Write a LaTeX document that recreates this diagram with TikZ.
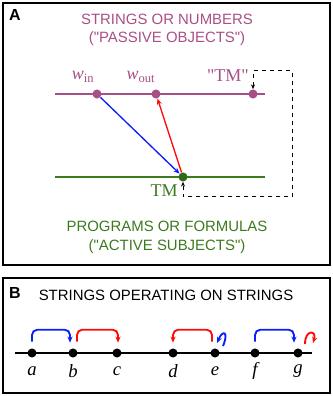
\documentclass[tikz,border=0pt]{standalone}
\usepackage{fontspec}
\setmainfont{Liberation Serif}[Ligatures=TeXOff]
\setsansfont{Liberation Sans}[Ligatures=TeXOff]
\usetikzlibrary{arrows.meta,positioning,calc}
\definecolor{passive}{HTML}{A84F86}
\definecolor{active}{HTML}{3C7A1E}
\definecolor{activedot}{HTML}{2F6A16}
\definecolor{hopblue}{HTML}{0A1EFF}
\definecolor{hopred}{HTML}{FF0A0A}

\begin{document}
\begin{tikzpicture}[
    x=0.75pt, y=0.75pt,
    >={Stealth[length=4.6pt,width=3.8pt]},
    panel/.style={draw=black, line width=0.8pt},
    tag/.style={font=\sffamily\bfseries\fontsize{12}{13}\selectfont},
    caption/.style={font=\sffamily\fontsize{11.2}{13.8}\selectfont, align=center},
    dot/.style={circle, inner sep=0pt, minimum size=6.8pt},
    symb/.style={font=\fontsize{13.5}{15}\selectfont, inner sep=0pt},
    hop/.style={->, line width=1.4pt, rounded corners=4pt},
    feed/.style={<->, dashed, line width=0.75pt, >={Stealth[length=3.6pt,width=3pt]}},
  ]
\useasboundingbox (0,0) rectangle (332,396);

% panel frames
\draw[panel] (3,131) rectangle (330,393);
\draw[panel] (3,3) rectangle (330,118);
\node[tag] (tagA) at (15,381) {A};
\node[tag] (tagB) at (15,103) {B};

% passive objects
\node[caption, text=passive] (objcap) at (167,366)
  {STRINGS OR NUMBERS\\("PASSIVE OBJECTS")};
\draw[passive, line width=1.5pt] (55,302) -- (265,302);
\node[dot, fill=passive] (win) at (97,302) {};
\node[dot, fill=passive] (wout) at (156,302) {};
\node[dot, fill=passive] (tmstr) at (253,302) {};
\node[symb, text=passive] (lwin) at (83,319) {\textit{w}\textsubscript{in}};
\node[symb, text=passive] (lwout) at (141,319) {\textit{w}\textsubscript{out}};
\node[symb, text=passive] (ltmstr) at (228,320) {"TM"};

% active subjects
\draw[active, line width=1.5pt] (55,219) -- (265,219);
\node[dot, fill=activedot] (tm) at (183,219) {};
\node[symb, text=active] (ltm) at (164,205) {TM};
\node[caption, text=active] (subcap) at (167,158.5)
  {PROGRAMS OR FORMULAS\\("ACTIVE SUBJECTS")};

% reading and writing
\draw[->, hopblue, line width=1pt] (win) -- (tm);
\draw[->, hopred, line width=1pt] (tm) -- (wout);

% the machine as its own description
\coordinate (ne) at (292,325);
\coordinate (se) at (292,199);
\draw[feed] (tmstr) |- (ne) -- (se) -| (tm);

% strings on strings
\node[caption] (bcap) at (166,101) {STRINGS OPERATING ON STRINGS};
\draw[line width=1.5pt] (15,43) -- (312,43);
\foreach \name/\xpos in {a/32,b/73,c/117,d/173,e/215,f/255,g/298} {
  \node[dot, fill=black] (\name) at (\xpos,43) {};
  \node[symb, font=\fontsize{14}{15}\selectfont\itshape] (l\name) at (\xpos,25) {\name};
}
\draw[hop, hopblue] ($(a.north)+(0,6.5)$) -- ++(0,12) -| ($(b.north)+(-3,5.5)$);
\draw[hop, hopred] ($(b.north)+(4,6.5)$) -- ++(0,12) -| ($(c.north)+(1,5.5)$);
\draw[hop, hopred] ($(e.north)+(-3,6.5)$) -- ++(0,12) -| ($(d.north)+(0,5.5)$);
\draw[hop, hopblue] ($(f.north)+(0,6.5)$) -- ++(0,12) -| ($(g.north)+(-4,5.5)$);
\draw[hop, hopblue] ($(e)+(8,7)$) .. controls ($(e)+(14,21)$) and ($(e)+(8,24)$) .. ($(e)+(2,10)$);
\draw[hop, hopred] ($(g)+(7,9)$) .. controls ($(g)+(7,24)$) and ($(g)+(19,23)$) .. ($(g)+(15,10)$);

\end{tikzpicture}
\end{document}
